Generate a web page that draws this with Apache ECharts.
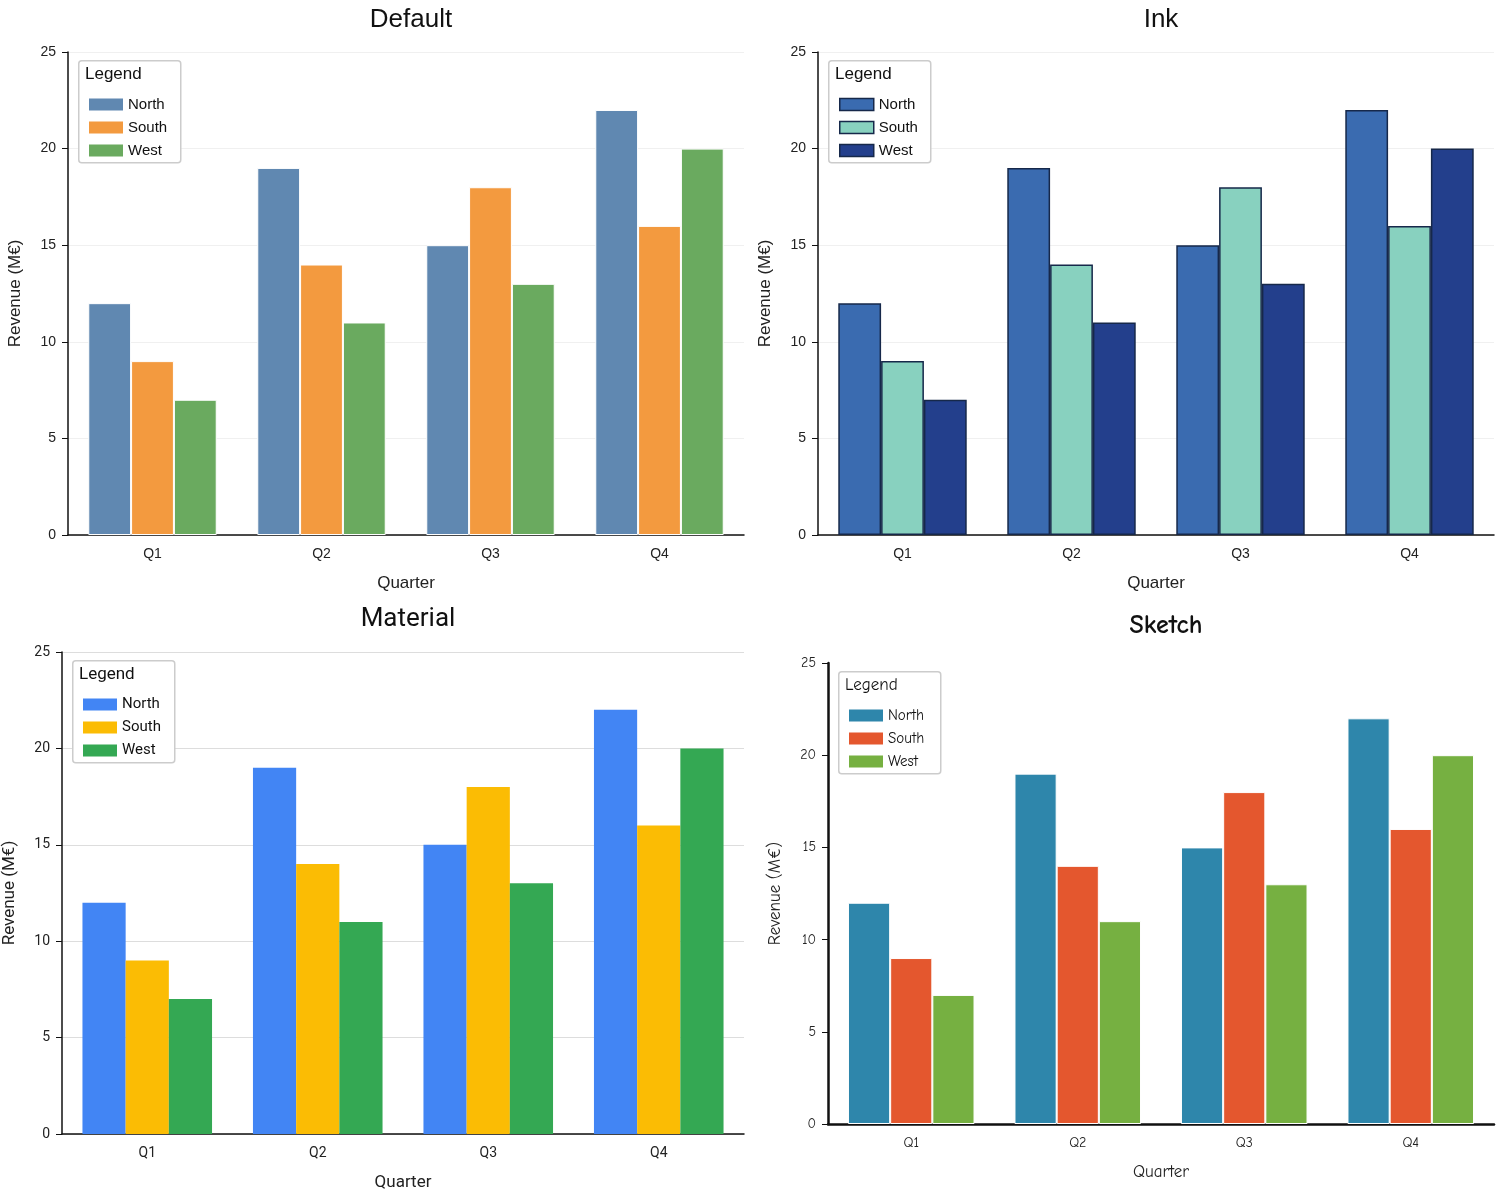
<!DOCTYPE html>
<html>
<head>
<meta charset="utf-8">
<script src="https://cdn.jsdelivr.net/npm/echarts@6/dist/echarts.min.js"></script>
<style>html,body{margin:0;background:#fff}#main{width:1500px;height:1200px}</style>
</head>
<body>
<div id="main"></div>
<script>
var quarters = ['Q1', 'Q2', 'Q3', 'Q4'];
var regions = ['North', 'South', 'West'];
var north = [12, 19, 15, 22];
var south = [9, 14, 18, 16];
var west = [7, 11, 13, 20];
var yTicks = [0, 5, 10, 15, 20, 25];

// panel styles
var panels = [
  {name: 'Default', grid: {left: 68, right: 756, top: 52, height: 483}, colors: ['#6088b1', '#f39a3f', '#6aaa5f'], border: '#fff', bw: 1, split: '#f0f0f0', font: 'Liberation Sans', titleTop: 2},
  {name: 'Ink', grid: {left: 818, right: 6, top: 52, height: 483}, colors: ['#3a6bb0', '#88d1bf', '#233f8c'], border: '#16284a', bw: 1.5, split: '#f0f0f0', font: 'Liberation Sans', titleTop: 2},
  {name: 'Material', grid: {left: 62, right: 756, top: 652, height: 482}, colors: ['#4285f4', '#fbbc04', '#34a853'], border: null, bw: 0, split: '#dddddd', font: 'Roboto', titleTop: 601},
  {name: 'Sketch', grid: {left: 828, right: 6, top: 663, height: 461}, colors: ['#2e86ab', '#e4572e', '#76b041'], border: '#fff', bw: 1, split: null, font: 'Comic Neue, DejaVu Sans', titleTop: 608}
];
var data = [north, south, west];

var option = {title: [], grid: [], xAxis: [], yAxis: [], series: [], legend: [], graphic: [], animation: false};
panels.forEach(function (p, i) {
  var cx = p.grid.left + (1500 - p.grid.left - p.grid.right) / 2;
  option.title.push({text: p.name, left: cx, top: p.titleTop, textAlign: 'center',
    textStyle: {fontSize: 26, fontWeight: i == 3 ? 'bold' : 'normal', color: '#111', fontFamily: p.font}});
  option.grid.push(p.grid);
  option.xAxis.push({type: 'category', gridIndex: i, data: quarters, name: 'Quarter', nameLocation: 'middle', nameGap: 40,
    nameTextStyle: {fontSize: 17, color: '#222', fontFamily: p.font},
    axisLine: {lineStyle: {color: '#111', width: i == 3 ? 2.5 : 1.5}},
    axisTick: {alignWithLabel: true, length: 5, lineStyle: {color: '#111', width: i == 3 ? 2.5 : 1}},
    axisLabel: {fontSize: 14, color: '#222', margin: 12, fontFamily: p.font}});
  option.yAxis.push({type: 'value', gridIndex: i, min: 0, max: 25, interval: 5, name: 'Revenue (M€)', nameLocation: 'middle', nameGap: 44,
    nameTextStyle: {fontSize: 17, color: '#222', fontFamily: p.font},
    axisLine: {show: true, lineStyle: {color: '#111', width: i == 3 ? 2.5 : 1.5}},
    axisTick: {show: true, length: 6, lineStyle: {color: '#111'}},
    axisLabel: {fontSize: 14, color: '#222', margin: 12, fontFamily: p.font},
    splitLine: {show: !!p.split, lineStyle: {color: p.split || '#fff'}}});
  regions.forEach(function (r, k) {
    option.series.push({type: 'bar', name: r, xAxisIndex: i, yAxisIndex: i, data: data[k],
      barGap: '0%', barCategoryGap: '24%',
      itemStyle: {color: p.colors[k], borderColor: p.border || p.colors[k], borderWidth: p.bw}});
  });
  // legend box
  var lx = p.grid.left + 10, ly = p.grid.top + 8;
  option.graphic.push({type: 'rect', left: lx, top: ly, shape: {width: 102, height: 102, r: 3},
    style: {fill: '#fff', stroke: '#ccc', lineWidth: 1.5}, z: 10});
  option.graphic.push({type: 'text', left: lx + 7, top: ly + 6, z: 11,
    style: {text: 'Legend', fontSize: 17, fill: '#111', fontFamily: p.font}});
  option.legend.push({orient: 'vertical', left: lx + 6, top: ly + 32, itemGap: 8, itemWidth: 34, itemHeight: 12,
    icon: 'rect', z: 12, data: regions.map(function (r, k) {
      return {name: r, itemStyle: {color: p.colors[k], borderColor: p.border || p.colors[k], borderWidth: i == 1 ? 1.5 : 0}};
    }),
    textStyle: {fontSize: 15, color: '#111', fontFamily: p.font}, selectedMode: false});
});
// legends attach to series by name across all; colors come from legend data itemStyle
var chart = echarts.init(document.getElementById('main'));
chart.setOption(option);
</script>
</body>
</html>
